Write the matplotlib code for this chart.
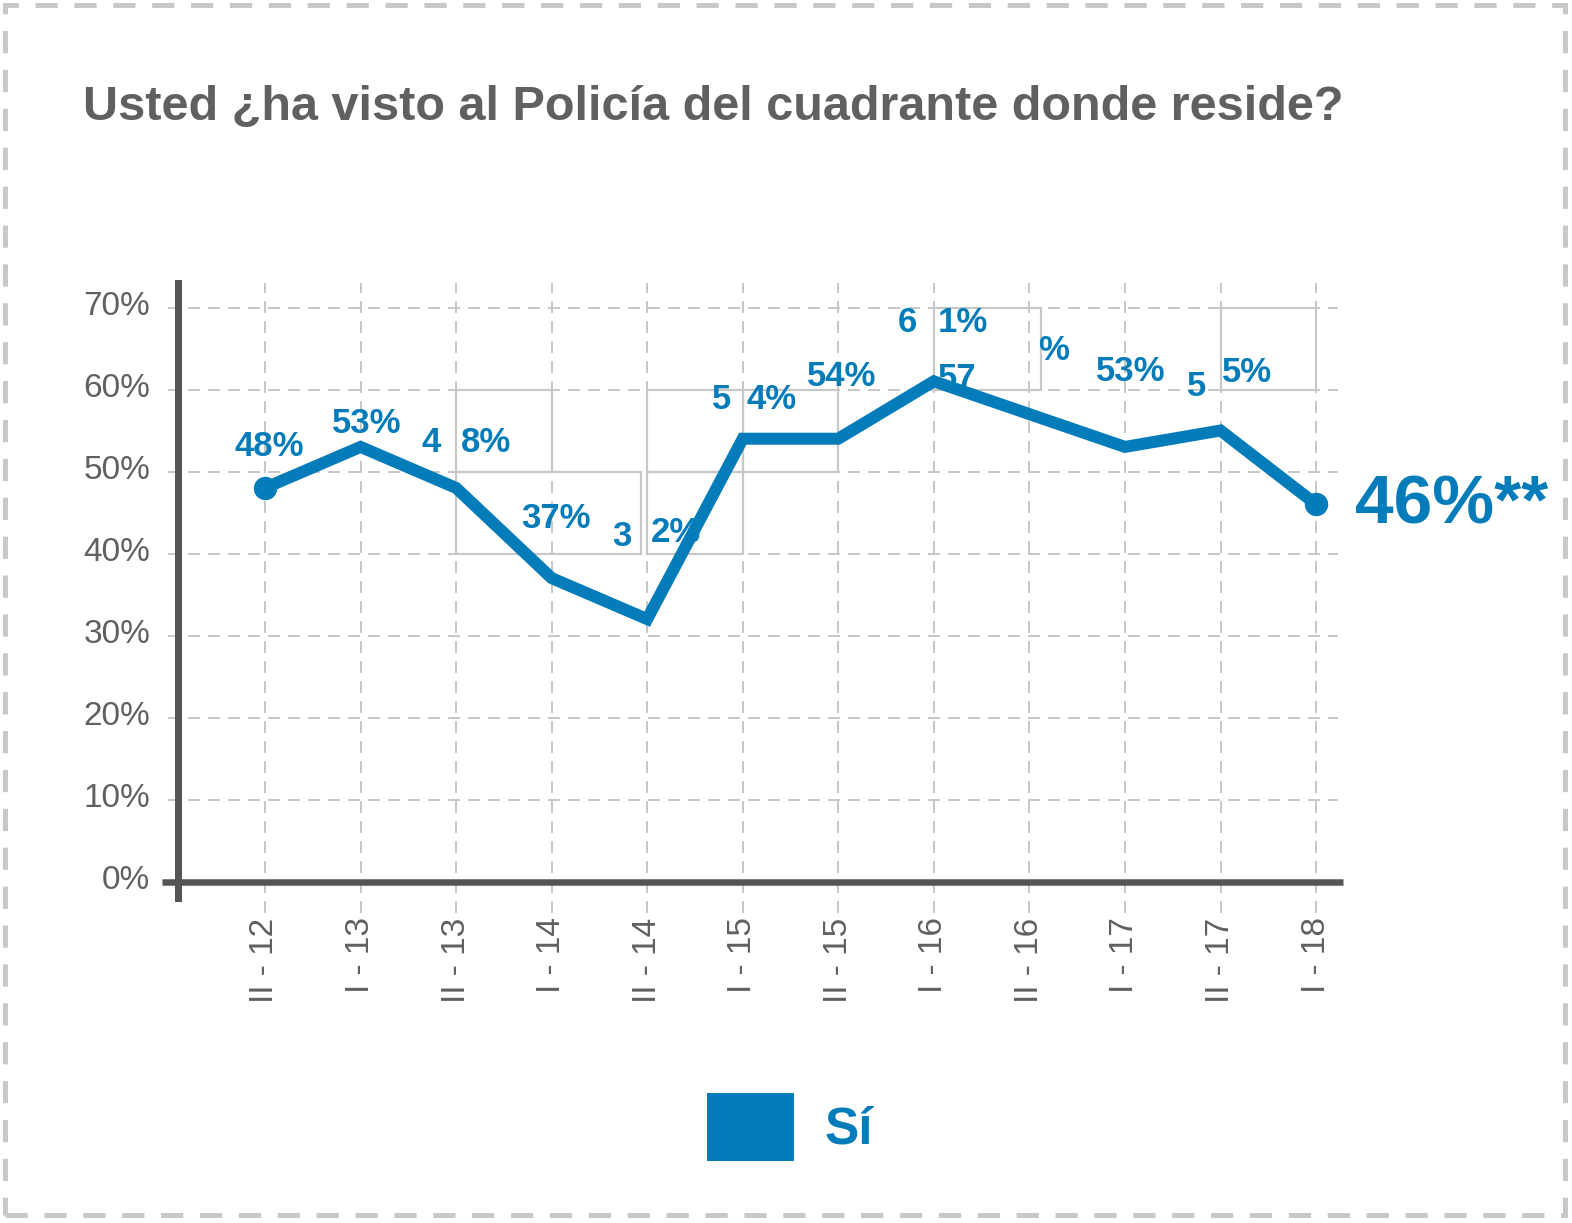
import matplotlib
matplotlib.use("Agg")
import matplotlib.pyplot as plt
from matplotlib.patches import Rectangle, Patch
from matplotlib.transforms import ScaledTranslation

plt.rcParams['font.family'] = ['Liberation Sans', 'DejaVu Sans']
plt.rcParams['lines.scale_dashes'] = False

# Survey periods and share of respondents answering "Sí"
periods = ["II - 12", "I - 13", "II - 13", "I - 14", "II - 14", "I - 15",
           "II - 15", "I - 16", "II - 16", "I - 17", "II - 17", "I - 18"]
si_pct = [48, 53, 48, 37, 32, 54, 54, 61, 57, 53, 55, 46]
y_ticks = [0, 10, 20, 30, 40, 50, 60, 70]

title = "Usted ¿ha visto al Policía del cuadrante donde reside?"
series_name = "Sí"
last_note = "**"

BLUE = "#047cb9"
GRAY_TXT = "#606060"
GRID = "#c8c8c8"
AXIS = "#555555"

# Value label pieces: (point index, text, dx px, dy px)
label_pieces = [
    (0, "48%", 4, -41),
    (1, "53%", 6, -23),
    (2, "4", -25, -45), (2, "8%", 30, -45),
    (3, "37%", 4, -60),
    (4, "3", -25, -83), (4, "2%", 29, -87),
    (5, "5", -21, -39), (5, "4%", 29, -39),
    (6, "54%", 3, -62),
    (7, "6", -26, -59), (7, "1%", 29, -59),
    (8, "57", -72, -36), (8, "%", 24, -64),
    (9, "53%", 6, -75),
    (10, "5", -24, -44), (10, "5%", 27, -58),
]

# Thin frames drawn over the plot area: (x0, x1, y0, y1) in data units
frames = [
    (2, 3, 50, 60), (2, 3.93, 40, 50),
    (4, 5, 40, 50), (4, 5, 50, 60),
    (5, 6, 50, 60),
    (7, 8.12, 60, 70),
    (10, 11, 60, 70),
]

W, H = 1572, 1223
fig = plt.figure(figsize=(W / 100, H / 100), dpi=100)
px = 0.72  # pixels -> points

ax = fig.add_axes([178 / W, (H - 898) / H, (1338 - 178) / W, (898 - 283) / H])
x = list(range(len(periods)))
ax.set_xlim(-0.9105, 11.2297)
ax.set_ylim(-2.012, 72.99)

for s in ["top", "right", "bottom"]:
    ax.spines[s].set_visible(False)
ax.spines["left"].set_color(AXIS)
ax.spines["left"].set_linewidth(7 * px)
ax.spines["left"].set_zorder(6)

# dashed grid
dash = (0, (8.6, 5.8))
ax.hlines([t for t in y_ticks if t > 0], -1.015, 11.2297, colors=GRID,
          linewidth=2 * px, linestyles=[dash], clip_on=False, zorder=1)
ax.vlines(x, -3.84, 72.99, colors=GRID, linewidth=2 * px,
          linestyles=[dash], clip_on=False, zorder=1)

for x0, x1, y0, y1 in frames:
    ax.add_patch(Rectangle((x0, y0), x1 - x0, y1 - y0, fill=False,
                           edgecolor=GRID, linewidth=2.2 * px, zorder=2))

# baseline axis
ax.plot([-1.078, 11.28], [0, 0], color=AXIS, linewidth=6.5 * px,
        solid_capstyle="butt", clip_on=False, zorder=6)

ax.plot(x, si_pct, color=BLUE, linewidth=12 * px, solid_joinstyle="miter",
        zorder=4)
ax.plot([x[0], x[-1]], [si_pct[0], si_pct[-1]], "o", color=BLUE,
        markersize=22 * px, zorder=5)

for i, txt, dx, dy in label_pieces:
    ax.annotate(txt, (x[i], si_pct[i]), xytext=(dx * px, -dy * px),
                textcoords="offset points", ha="center", va="center",
                fontsize=25, fontweight="bold", color=BLUE, zorder=7)

ax.annotate(f"{si_pct[-1]}%{last_note}", (x[-1], si_pct[-1]),
            xytext=(39 * px, -1 * px), textcoords="offset points",
            ha="left", va="center", fontsize=50, fontweight="bold",
            color=BLUE, zorder=7)

ax.set_yticks(y_ticks)
ax.set_yticklabels([f"{t}%" for t in y_ticks])
ax.set_xticks(x)
ax.set_xticklabels(periods, rotation=90)
ax.tick_params(axis="both", length=0, labelsize=24, labelcolor=GRAY_TXT)
ax.tick_params(axis="y", pad=20)
ax.tick_params(axis="x", pad=14)
ax.grid(False)

lift = ScaledTranslation(0, 5 / 100, fig.dpi_scale_trans)
for lbl in ax.get_yticklabels():
    lbl.set_transform(lbl.get_transform() + lift)

fig.text(83 / W, 1 - 120 / H, title, ha="left", va="baseline",
         fontsize=35, fontweight="bold", color=GRAY_TXT)

fs_leg = 37
em = fs_leg / 0.72
fig.legend(handles=[Patch(facecolor=BLUE, edgecolor="none")],
           labels=[series_name], loc="center",
           bbox_to_anchor=(790 / W, 1 - 1127 / H), frameon=False,
           handlelength=87 / em, handleheight=1.66,
           handletextpad=30 / em, borderpad=0,
           prop={"size": fs_leg, "weight": "bold"}, labelcolor=BLUE)

# dashed outer border
fig.patches.append(Rectangle((5 / W, 8 / H), 1560 / W, 1210 / H,
                             transform=fig.transFigure, fill=False,
                             edgecolor=GRID, linewidth=5 * px,
                             linestyle=(0, (16, 12)), zorder=0))

fig.savefig("out.png", dpi=100, facecolor="white")
